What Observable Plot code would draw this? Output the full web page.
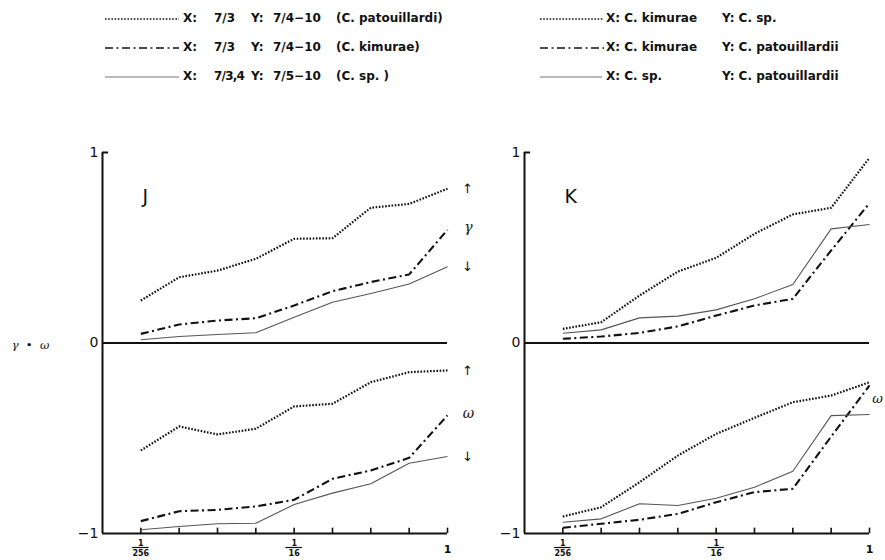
<!DOCTYPE html>
<html>
<head>
<meta charset="utf-8">
<script src="https://cdn.jsdelivr.net/npm/d3@7"></script>
<script src="https://cdn.jsdelivr.net/npm/@observablehq/plot@0.6"></script>
<style>
  html, body { margin: 0; padding: 0; background: #fff; }
  #wrap { position: relative; width: 885px; height: 560px; background: #fff; overflow: hidden; }
  #legend { position: relative; width: 885px; height: 100px; font-family: "DejaVu Sans", sans-serif; font-weight: bold; font-size: 12px; color: #111; }
  #legend span { position: absolute; white-space: pre; line-height: 14px; }
  #legend svg { position: absolute; }
</style>
</head>
<body>
<div id="wrap">
  <div id="legend"></div>
  <div id="chart"></div>
</div>
<script>
// ---- data ----
const panels = ["J", "K"];
const xValues = [1/256, 1/128, 1/64, 1/32, 1/16, 1/8, 1/4, 1/2, 1];
const xMin = 1/512;

const J_gamma_dot   = [0.223, 0.345, 0.380, 0.442, 0.547, 0.550, 0.710, 0.730, 0.810];
const J_gamma_dash  = [0.048, 0.097, 0.118, 0.130, 0.197, 0.272, 0.320, 0.360, 0.594];
const J_gamma_solid = [0.017, 0.034, 0.045, 0.054, 0.135, 0.214, 0.260, 0.310, 0.400];
const J_omega_dot   = [-0.564, -0.438, -0.480, -0.450, -0.333, -0.319, -0.206, -0.153, -0.144];
const J_omega_dash  = [-0.935, -0.883, -0.876, -0.858, -0.823, -0.713, -0.669, -0.603, -0.380];
const J_omega_solid = [-0.980, -0.963, -0.949, -0.946, -0.848, -0.788, -0.739, -0.631, -0.596];

const K_gamma_dot   = [0.074, 0.109, 0.249, 0.375, 0.447, 0.573, 0.675, 0.710, 0.972];
const K_gamma_dash  = [0.022, 0.034, 0.053, 0.087, 0.144, 0.197, 0.232, 0.486, 0.734];
const K_gamma_solid = [0.051, 0.069, 0.132, 0.141, 0.174, 0.232, 0.307, 0.599, 0.622];
const K_omega_dot   = [-0.911, -0.862, -0.731, -0.591, -0.477, -0.393, -0.311, -0.276, -0.206];
const K_omega_dash  = [-0.970, -0.949, -0.928, -0.897, -0.836, -0.783, -0.765, -0.491, -0.223];
const K_omega_solid = [-0.941, -0.923, -0.844, -0.853, -0.815, -0.757, -0.673, -0.381, -0.375];

const yTickValues = [1, 0, -1];
const yTickLabels = ["1", "0", "−1"];
const fracTicks = [{x: 1/256, num: "1", den: "256"}, {x: 1/16, num: "1", den: "16"}];
const wholeTicks = [{x: 1, label: "1"}];

const legendLeft = [
  {style: "dot",   parts: ["X:", "7/3",   "Y:", "7/4−10", "(C. patouillardi)"]},
  {style: "dash",  parts: ["X:", "7/3",   "Y:", "7/4−10", "(C. kimurae)"]},
  {style: "solid", parts: ["X:", "7/3,4", "Y:", "7/5−10", "(C. sp. )"]}
];
const legendRight = [
  {style: "dot",   parts: ["X: C. kimurae", "Y: C. sp."]},
  {style: "dash",  parts: ["X: C. kimurae", "Y: C. patouillardii"]},
  {style: "solid", parts: ["X: C. sp.",     "Y: C. patouillardii"]}
];

// ---- styles ----
const styles = {
  dot:   {stroke: "#111", strokeWidth: 2.2, strokeDasharray: "1.6,1.6"},
  dash:  {stroke: "#111", strokeWidth: 2.1, strokeDasharray: "8,3.5,2,3.5"},
  solid: {stroke: "#555", strokeWidth: 1.1, strokeDasharray: null}
};

// ---- build table ----
const seriesMap = {
  J: {"γ": {dot: J_gamma_dot, dash: J_gamma_dash, solid: J_gamma_solid},
      "ω": {dot: J_omega_dot, dash: J_omega_dash, solid: J_omega_solid}},
  K: {"γ": {dot: K_gamma_dot, dash: K_gamma_dash, solid: K_gamma_solid},
      "ω": {dot: K_omega_dot, dash: K_omega_dash, solid: K_omega_solid}}
};
const rows = [];
const arrows = [];   // J panel: ↑ / ↓ at the ends of the bands
const symbols = [];  // γ / ω labels
for (const p of panels) {
  for (const m of ["γ", "ω"]) {
    for (const s of ["dot", "dash", "solid"]) {
      seriesMap[p][m][s].forEach((v, i) => rows.push({panel: p, measure: m, style: s, x: xValues[i], y: v}));
    }
    const top = seriesMap[p][m].dot.at(-1), bot = seriesMap[p][m].solid.at(-1);
    if (p === "J") {
      arrows.push({panel: p, y: top, text: "↑"});
      arrows.push({panel: p, y: bot, text: "↓"});
      symbols.push({panel: p, y: (top + bot) / 2, text: m});
    } else if (m === "ω") {
      symbols.push({panel: p, y: (top + bot) / 2, text: m});
    }
  }
}
const cross = (a, b) => a.flatMap(p => b.map(v => ({panel: p, v})));

// ---- legend ----
const legend = document.getElementById("legend");
function sample(x1, x2, y, style) {
  const ns = "http://www.w3.org/2000/svg";
  const svg = document.createElementNS(ns, "svg");
  svg.setAttribute("width", x2 - x1);
  svg.setAttribute("height", 6);
  svg.style.left = x1 + "px";
  svg.style.top = (y - 3) + "px";
  const l = document.createElementNS(ns, "line");
  l.setAttribute("x1", 0); l.setAttribute("x2", x2 - x1);
  l.setAttribute("y1", 3); l.setAttribute("y2", 3);
  const st = styles[style];
  l.setAttribute("stroke", st.stroke);
  l.setAttribute("stroke-width", st.strokeWidth * 0.75);
  if (st.strokeDasharray) l.setAttribute("stroke-dasharray", st.strokeDasharray);
  svg.appendChild(l);
  legend.appendChild(svg);
}
function label(x, y, t, tight) {
  const s = document.createElement("span");
  s.textContent = t;
  s.style.left = x + "px";
  s.style.top = (y - 7) + "px";
  if (tight) s.style.letterSpacing = "-0.8px";
  legend.appendChild(s);
}
const rowY = [18, 47, 76];
const leftCols = [183, 214, 251, 273, 336];
legendLeft.forEach((r, i) => {
  sample(105, 179, rowY[i] + 1, r.style);
  r.parts.forEach((t, j) => label(leftCols[j], rowY[i], t, t.length > 4 && j === 1));
});
const rightCols = [606, 722];
legendRight.forEach((r, i) => {
  sample(540, i === 2 ? 602 : 604, rowY[i] + 1, r.style);
  r.parts.forEach((t, j) => label(rightCols[j], rowY[i], t, false));
});

// ---- chart ----
const lineMark = s => Plot.line(rows.filter(d => d.style === s), {
  fx: "panel", x: "x", y: "y", z: "measure", curve: "linear",
  stroke: styles[s].stroke, strokeWidth: styles[s].strokeWidth,
  strokeDasharray: styles[s].strokeDasharray ?? undefined, strokeLinecap: "butt"
});

const chart = Plot.plot({
  width: 885, height: 460,
  marginLeft: 101, marginRight: 15, marginTop: 52, marginBottom: 27,
  style: {fontFamily: "DejaVu Sans, sans-serif", color: "#111", background: "#fff", overflow: "visible"},
  fx: {domain: panels, paddingInner: 0.182, paddingOuter: 0, axis: null, label: null},
  x: {type: "log", base: 2, domain: [xMin, 1], axis: null},
  y: {domain: [-1, 1], axis: null},
  marks: [
    // y axis line
    Plot.ruleX(panels, {fx: d => d, x: () => xMin, y1: () => -1, y2: () => 1, stroke: "#111", strokeWidth: 2}),
    // small top tick
    Plot.ruleY(panels, {fx: d => d, y: () => 1, x1: () => xMin, x2: () => xMin * 2 ** 0.16, stroke: "#111", strokeWidth: 2}),
    // zero line and bottom axis
    Plot.ruleY(panels, {fx: d => d, y: () => 0, x1: () => xMin, x2: () => 1, stroke: "#111", strokeWidth: 2.2}),
    Plot.ruleY(panels, {fx: d => d, y: () => -1, x1: () => xMin, x2: () => 1, stroke: "#111", strokeWidth: 2.2}),
    // x ticks
    Plot.ruleX(cross(panels, xValues), {fx: "panel", x: "v", y1: () => -1, y2: () => -0.972, stroke: "#111", strokeWidth: 1.6}),
    // fraction tick labels
    Plot.text(cross(panels, fracTicks), {fx: "panel", x: d => d.v.x, y: () => -1, text: d => d.v.num, dy: 10, fontSize: 8, fontWeight: "bold"}),
    Plot.ruleY(cross(panels, fracTicks), {fx: "panel", y: () => -1, x1: d => d.v.x / 1.16, x2: d => d.v.x * 1.16, dy: 14, stroke: "#111", strokeWidth: 1.2}),
    Plot.text(cross(panels, fracTicks), {fx: "panel", x: d => d.v.x, y: () => -1, text: d => d.v.den, dy: 20, fontSize: 8, fontWeight: "bold"}),
    Plot.text(cross(panels, wholeTicks), {fx: "panel", x: d => d.v.x, y: () => -1, text: d => d.v.label, dy: 16, fontSize: 11, fontWeight: "bold"}),
    // y tick labels
    Plot.text(cross(panels, yTickValues.map((v, i) => ({v, t: yTickLabels[i]}))), {
      fx: "panel", x: () => xMin, y: d => d.v.v, text: d => d.v.t, textAnchor: "end", dx: -4, fontSize: 14
    }),
    // panel letters
    Plot.text(panels, {fx: d => d, text: d => d, frameAnchor: "top-left", textAnchor: "start", lineAnchor: "top", dx: 40, dy: 37, fontSize: 19}),
    // y label
    Plot.text(["J"], {fx: d => d, x: () => xMin, y: () => 0, text: () => "γ\u00a0\u00a0•\u00a0\u00a0ω", dx: -72, dy: 2, fontSize: 11.5, fontStyle: "italic", fontFamily: "DejaVu Serif, serif"}),
    // series
    lineMark("dot"),
    lineMark("dash"),
    lineMark("solid"),
    // right annotations
    Plot.text(arrows, {fx: "panel", x: () => 1, y: "y", text: "text", dx: 20, fontSize: 13, fill: "#111"}),
    Plot.text(symbols.filter(d => d.panel === "J"), {fx: "panel", x: () => 1, y: "y", text: "text", dx: 21,
      fontSize: 14, fontStyle: "italic", fontFamily: "DejaVu Serif, serif", fill: "#111"}),
    Plot.text(symbols.filter(d => d.panel === "K"), {fx: "panel", x: () => 1, y: "y", text: "text", dx: 8,
      fontSize: 13, fontStyle: "italic", fontFamily: "DejaVu Serif, serif", fill: "#111"})
  ]
});
document.getElementById("chart").appendChild(chart);
</script>
</body>
</html>
